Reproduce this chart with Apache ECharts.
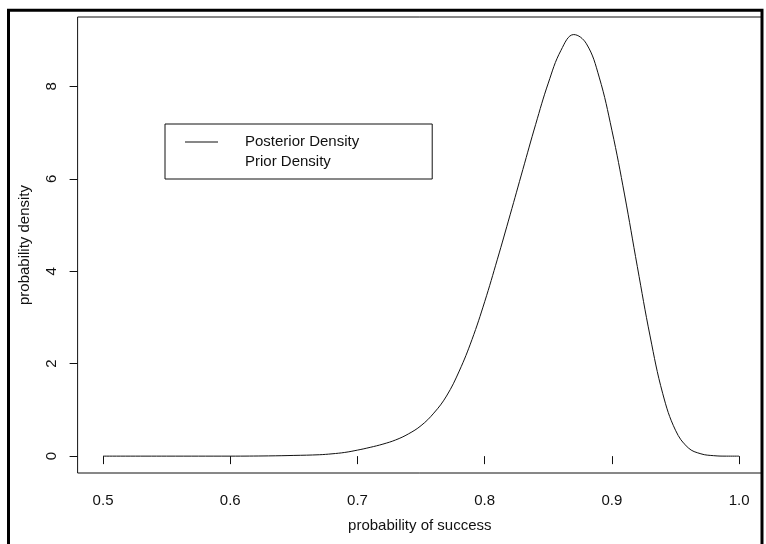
<!DOCTYPE html>
<html>
<head>
<meta charset="utf-8">
<script src="https://cdn.jsdelivr.net/npm/echarts@6/dist/echarts.min.js"></script>
<style>
html,body{margin:0;padding:0;background:#fff;}
#chart{width:766px;height:544px;}
</style>
</head>
<body>
<div id="chart"></div>
<script>
// Data
var xValues = [0.50,0.55,0.60,0.63,0.65,0.67,0.68,0.69,0.70,0.71,0.72,0.73,0.74,0.75,0.76,0.77,0.78,0.79,0.80,0.81,0.82,0.83,0.84,0.85,0.86,0.87,0.88,0.89,0.90,0.91,0.92,0.93,0.94,0.95,0.96,0.97,0.98,0.99,1.00];
var posteriorDensity = [0,0,0,0.005,0.015,0.03,0.05,0.08,0.13,0.19,0.26,0.35,0.48,0.66,0.93,1.3,1.84,2.52,3.34,4.26,5.22,6.2,7.17,8.07,8.78,9.12,8.92,8.2,7.05,5.65,4.1,2.6,1.35,0.56,0.18,0.05,0.01,0,0];
var xTicks = [0.5,0.6,0.7,0.8,0.9,1.0];
var yTicks = [0,2,4,6,8];
var seriesNames = ['Posterior Density','Prior Density'];
var xTitle = 'probability of success';
var yTitle = 'probability density';

var chart = echarts.init(document.getElementById('chart'), null, {renderer:'canvas'});
var font = 'Liberation Sans, Arial, sans-serif';
var ink = '#111';
var pts = xValues.map(function(x,i){return [x, posteriorDensity[i]];});

chart.setOption({
  animation:false,
  backgroundColor:'#fff',
  textStyle:{fontFamily:font},
  graphic:[{
    type:'rect', z:100, silent:true,
    shape:{x:8.5, y:10.3, width:753.5, height:560},
    style:{fill:'none', stroke:'#000', lineWidth:3}
  }],
  grid:{left:77.6, top:17, right:4, bottom:71, show:true, borderColor:ink, borderWidth:1, backgroundColor:'transparent'},
  legend:{
    orient:'vertical', left:165, top:124,
    borderColor:ink, borderWidth:1, borderRadius:0,
    padding:[9,73,8,20],
    itemWidth:33, itemHeight:1, itemGap:2,
    textStyle:{fontFamily:font, fontSize:15, color:ink, lineHeight:18, padding:[0,0,0,22]},
    data:[
      {name:seriesNames[0], icon:'rect', itemStyle:{color:ink}},
      {name:seriesNames[1], icon:'rect', itemStyle:{color:'rgba(0,0,0,0)'}}
    ]
  },
  xAxis:{
    type:'value', min:0.48, max:1.018,
    name:xTitle, nameLocation:'middle', nameGap:45,
    nameTextStyle:{fontFamily:font, fontSize:15, color:ink},
    axisLine:{show:false},
    axisTick:{show:true, length:8, customValues:xTicks, lineStyle:{color:ink}},
    axisLabel:{customValues:xTicks, margin:20, fontSize:15, color:ink, fontFamily:font,
      formatter:function(v){return v.toFixed(1);}},
    splitLine:{show:false}
  },
  yAxis:{
    type:'value', min:-0.365, max:9.5,
    name:yTitle, nameLocation:'middle', nameGap:45, nameRotate:90,
    nameTextStyle:{fontFamily:font, fontSize:15, color:ink},
    axisLine:{show:false},
    axisTick:{show:true, length:8, customValues:yTicks, lineStyle:{color:ink}},
    axisLabel:{customValues:yTicks, margin:18, rotate:90, fontSize:15, color:ink, fontFamily:font},
    splitLine:{show:false}
  },
  series:[
    {name:seriesNames[0], type:'line', data:pts, showSymbol:false, smooth:0.4,
     lineStyle:{color:ink, width:1}, itemStyle:{color:ink}},
    {name:seriesNames[1], type:'line', data:[], showSymbol:false,
     lineStyle:{color:ink, width:1, type:'dotted'}}
  ]
});
</script>
</body>
</html>
